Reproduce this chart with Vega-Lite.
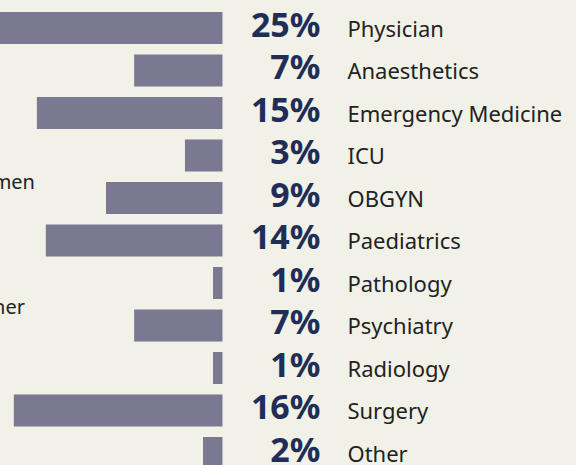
{
  "$schema": "https://vega.github.io/schema/vega-lite/v6.json",
  "width": 576,
  "height": {"step": 42.5},
  "autosize": "none",
  "padding": 0,
  "background": "#f1f1e8",
  "config": {"view": {"stroke": null}},
  "datasets": {
    "rows": [
      {"specialty": "Physician", "share": 25, "label": "25%"},
      {"specialty": "Anaesthetics", "share": 6.9, "label": "7%"},
      {"specialty": "Emergency Medicine", "share": 14.5, "label": "15%"},
      {"specialty": "ICU", "share": 2.93, "label": "3%"},
      {"specialty": "OBGYN", "share": 9.1, "label": "9%"},
      {"specialty": "Paediatrics", "share": 13.8, "label": "14%"},
      {"specialty": "Pathology", "share": 0.74, "label": "1%"},
      {"specialty": "Psychiatry", "share": 6.9, "label": "7%"},
      {"specialty": "Radiology", "share": 0.74, "label": "1%"},
      {"specialty": "Surgery", "share": 16.3, "label": "16%"},
      {"specialty": "Other", "share": 1.52, "label": "2%"}
    ],
    "fragments": [
      {"specialty": "OBGYN", "text": "men"},
      {"specialty": "Psychiatry", "text": "her"}
    ]
  },
  "encoding": {
    "y": {
      "field": "specialty",
      "type": "nominal",
      "sort": ["Physician", "Anaesthetics", "Emergency Medicine", "ICU", "OBGYN", "Paediatrics", "Pathology", "Psychiatry", "Radiology", "Surgery", "Other"],
      "scale": {"paddingInner": 0.247, "paddingOuter": 0.282},
      "axis": null
    }
  },
  "layer": [
    {
      "data": {"name": "rows"},
      "mark": {"type": "bar", "color": "#7b7891", "clip": true},
      "encoding": {
        "x": {"field": "share", "type": "quantitative", "scale": {"domain": [-27.62, 17.38], "reverse": true, "nice": false, "zero": false}, "axis": null},
        "x2": {"datum": 0}
      }
    },
    {
      "data": {"name": "rows"},
      "mark": {"type": "text", "align": "right", "baseline": "middle", "dx": 98, "dy": -1, "font": "Noto Sans", "fontWeight": "bold", "fontSize": 34, "color": "#1f2d57"},
      "encoding": {
        "x": {"datum": 0, "type": "quantitative"},
        "text": {"field": "label"}
      }
    },
    {
      "data": {"name": "rows"},
      "mark": {"type": "text", "align": "left", "baseline": "middle", "dx": 125, "dy": 2, "font": "Noto Sans", "fontSize": 22, "color": "#222222"},
      "encoding": {
        "x": {"datum": 0, "type": "quantitative"},
        "text": {"field": "specialty"}
      }
    },
    {
      "data": {"name": "fragments"},
      "transform": [{"filter": "datum.text === 'men'"}],
      "mark": {"type": "text", "align": "right", "baseline": "middle", "dx": -187.5, "dy": -15, "font": "Noto Sans", "fontSize": 20, "color": "#222222"},
      "encoding": {
        "x": {"datum": 0, "type": "quantitative"},
        "text": {"field": "text"}
      }
    },
    {
      "data": {"name": "fragments"},
      "transform": [{"filter": "datum.text === 'her'"}],
      "mark": {"type": "text", "align": "right", "baseline": "middle", "dx": -197.5, "dy": -17, "font": "Noto Sans", "fontSize": 20, "color": "#222222"},
      "encoding": {
        "x": {"datum": 0, "type": "quantitative"},
        "text": {"field": "text"}
      }
    }
  ]
}
